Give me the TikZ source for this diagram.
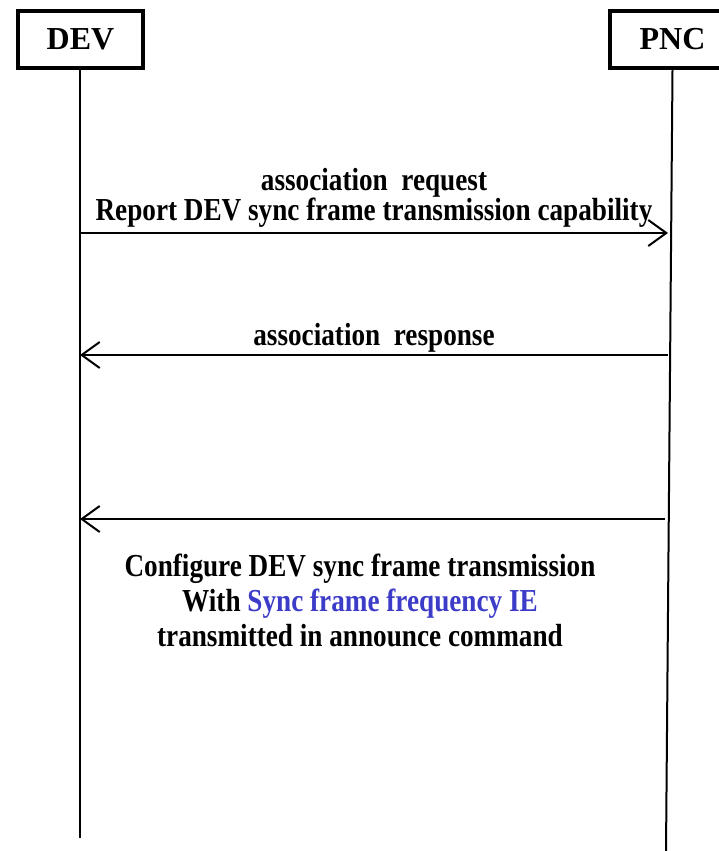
\documentclass[tikz,border=0pt]{standalone}
\usepackage{fontspec}
\setmainfont{Liberation Serif}
\newfontfamily\msgfont{Liberation Serif}[FakeStretch=0.85]
\usetikzlibrary{arrows.meta}
\definecolor{iecolor}{RGB}{60,60,200}
\tikzset{
  entity/.style={draw, line width=4.5pt, minimum width=125pt, minimum height=57pt, font=\fontsize{32}{36}\selectfont\bfseries},
  lifeline/.style={line width=2pt},
  msg/.style={line width=2pt, -{Straight Barb[length=18pt,width=26pt,line width=2pt]}},
  msglabel/.style={align=center, font=\msgfont\fontsize{32}{30}\selectfont\bfseries, inner sep=0pt}
}

\begin{document}
\begin{tikzpicture}[x=1pt,y=-1pt]
\useasboundingbox (0,0) rectangle (718,851);
\node[entity] (dev) at (80.5,39.5) {DEV};
\node[entity] (pnc) at (672.5,39.5) {PNC};
\coordinate (devend) at (80,838);
\coordinate (pncend) at (666,851);
\draw[lifeline] (dev.south -| devend) -- (devend);
\draw[lifeline] (pnc.south) -- (pncend);
\coordinate (dev1) at (80,233);  \coordinate (pnc1) at (668,233);
\coordinate (dev2) at (80,355);  \coordinate (pnc2) at (668,355);
\coordinate (dev3) at (80,519);  \coordinate (pnc3) at (665,519);
\draw[msg] (dev1) -- (pnc1) node[msglabel, midway, above=5pt] (req) {association\ \ request\\Report DEV sync frame transmission capability};
\draw[msg] (pnc2) -- (dev2) node[msglabel, midway, above=2pt] (resp) {association\ \ response};
\draw[msg] (pnc3) -- (dev3);
\node[msglabel, font=\msgfont\fontsize{32}{35}\selectfont\bfseries] (cfg) at (360,600) {Configure DEV sync frame transmission\\With \textcolor{iecolor}{Sync frame frequency IE}\\transmitted in announce command};
\end{tikzpicture}
\end{document}
